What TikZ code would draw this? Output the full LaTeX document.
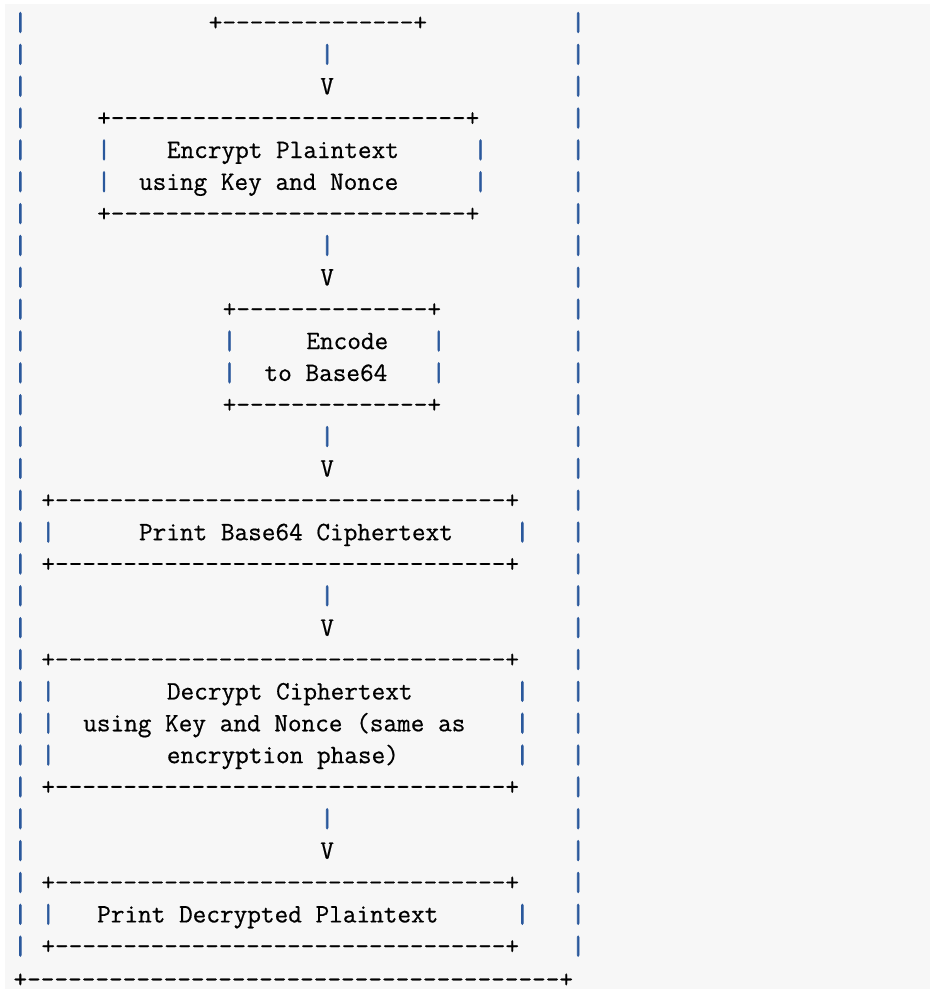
\documentclass[tikz,border=0pt]{standalone}
\usepackage{fontspec}
\setmonofont{Latin Modern Mono}
\newfontfamily\asctext{Latin Modern Mono}[FakeBold=0.6]
\newfontfamily\ascbar{Latin Modern Mono}[FakeBold=2.2]
\definecolor{pipeblue}{HTML}{2A589C}
\definecolor{codebg}{HTML}{F7F7F7}
\newcount\dcnt
\newcommand\dashes[1]{\dcnt=0\relax\loop\ifnum\dcnt<#1\relax -\kern0pt\advance\dcnt by 1\relax\repeat}
\tikzset{
  ch/.style={anchor=base west, inner sep=0pt, outer sep=0pt, font=\fontsize{26.5}{32}\selectfont\asctext, text=black},
  bar/.style={ch, font=\fontsize{26.5}{32}\selectfont\ascbar, text=pipeblue}
}
% column c, row r  ->  x = 20.5 + 13.945*(c-0.5), baseline y = 30.6 + 31.85*(r-1)
\newcommand\tx[3]{\node[ch] (t-#1-#2) at ({20.5+13.945*(#2-0.5)},{30.6+31.85*(#1-1)}) {#3};}
\newcommand\br[2]{\node[bar] (b-#1-#2) at ({20.5+13.945*(#2-0.5)},{30.6+31.85*(#1-1)}) {|};}
\newcommand\hrow[3]{\node[ch] (h-#1-#2) at ({20.5+13.945*(#2-0.5)},{30.6+31.85*(#1-1)}) {+\dashes{\numexpr#3-#2-1\relax}+};}
\begin{document}
\begin{tikzpicture}[x=1pt,y=-1pt]
\useasboundingbox (0,0) rectangle (930,989);
\fill[white] (0,0) rectangle (930,989);
\fill[codebg] (5,4) rectangle (930,989);
% outer frame sides
\foreach \r in {1,...,30} {\br{\r}{0}\br{\r}{40}}
% top box bottom
\hrow{1}{14}{29}
\br{2}{22}
\tx{3}{22}{V}
% Encrypt box
\hrow{4}{6}{33}
\br{5}{6}\tx{5}{11}{Encrypt Plaintext}\br{5}{33}
\br{6}{6}\tx{6}{9}{using Key and Nonce}\br{6}{33}
\hrow{7}{6}{33}
\br{8}{22}
\tx{9}{22}{V}
% Encode box
\hrow{10}{15}{30}
\br{11}{15}\tx{11}{21}{Encode}\br{11}{30}
\br{12}{15}\tx{12}{18}{to Base64}\br{12}{30}
\hrow{13}{15}{30}
\br{14}{22}
\tx{15}{22}{V}
% Print Base64 box
\hrow{16}{2}{36}
\br{17}{2}\tx{17}{9}{Print Base64 Ciphertext}\br{17}{36}
\hrow{18}{2}{36}
\br{19}{22}
\tx{20}{22}{V}
% Decrypt box
\hrow{21}{2}{36}
\br{22}{2}\tx{22}{11}{Decrypt Ciphertext}\br{22}{36}
\br{23}{2}\tx{23}{5}{using Key and Nonce (same as}\br{23}{36}
\br{24}{2}\tx{24}{11}{encryption phase)}\br{24}{36}
\hrow{25}{2}{36}
\br{26}{22}
\tx{27}{22}{V}
% Print Decrypted box
\hrow{28}{2}{36}
\br{29}{2}\tx{29}{6}{Print Decrypted Plaintext}\br{29}{36}
\hrow{30}{2}{36}
% outer frame bottom
\node[ch, text depth=0pt] (h-31-0) at ({20.5+13.945*(0-0.5)},987.5) {+\dashes{39}+};
\end{tikzpicture}
\end{document}
